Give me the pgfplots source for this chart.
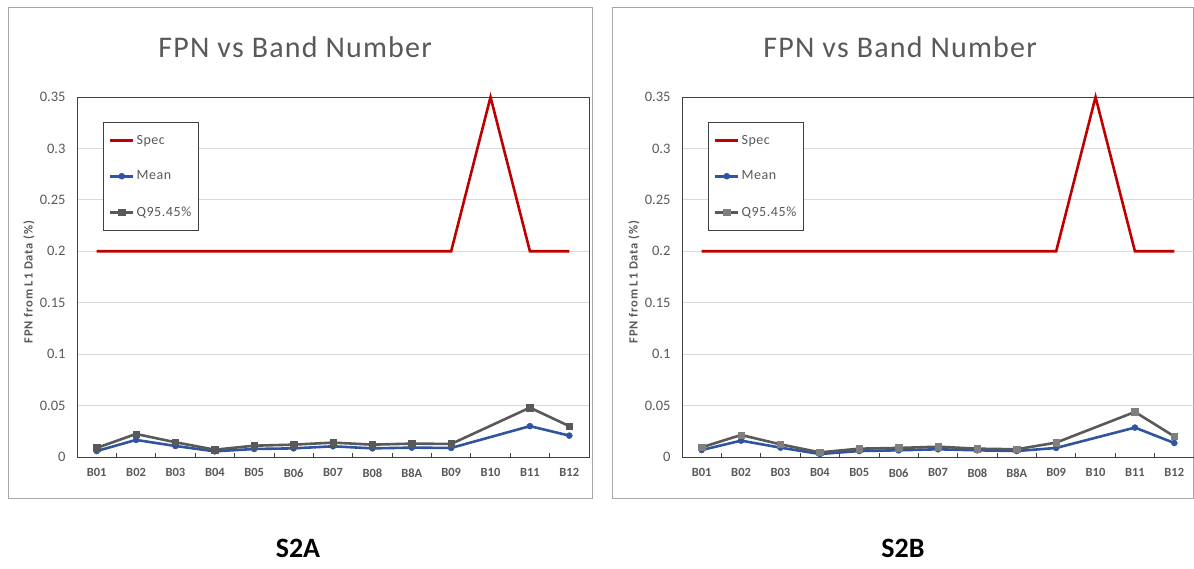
\documentclass[border=0pt]{standalone}
\usepackage{pgfplots}
\pgfplotsset{compat=1.18}
\usepackage{fontspec}
\setmainfont{Carlito}
\newfontfamily\ttlfont[LetterSpace=4]{Carlito}
\newfontfamily\ylfont[LetterSpace=7]{Carlito}
\newfontfamily\lgfont[LetterSpace=4]{Carlito}
\definecolor{specc}{HTML}{C00000}
\definecolor{meanc}{HTML}{2F55A0}
\definecolor{qc}{HTML}{595959}
\definecolor{qcm}{HTML}{7F7F7F}
\definecolor{txt}{HTML}{595959}
\definecolor{gridc}{HTML}{D9D9D9}
\definecolor{axc}{HTML}{404040}
\definecolor{panel}{HTML}{A6A6A6}

\pgfplotsset{fpn/.style={
  scale only axis, width=512bp, height=360bp,
  xmin=-0.5, xmax=12.5, ymin=0, ymax=0.35,
  xtick={0,1,2,3,4,5,6,7,8,9,10,11,12},
  xticklabels={B01,B02,B03,B04,B05,B06,B07,B08,B8A,B09,B10,B11,B12},
  minor xtick={0.5,1.5,2.5,3.5,4.5,5.5,6.5,7.5,8.5,9.5,10.5,11.5},
  major tick length=0pt, minor tick length=4bp,
  tick align=inside, xtick pos=bottom, ytick pos=left,
  minor tick style={draw=axc, line width=0.8bp},
  ytick={0,0.05,0.1,0.15,0.2,0.25,0.3,0.35},
  yticklabels={0,0.05,0.1,0.15,0.2,0.25,0.3,0.35},
  ymajorgrids, grid style={draw=gridc, line width=0.8bp},
  axis line style={draw=axc, line width=0.9bp},
  /pgf/number format/assume math mode=true,
  yticklabel style={font=\fontsize{14.5bp}{16bp}\selectfont, text=txt, xshift=-8bp},
  xticklabel style={font=\fontsize{12.5bp}{14bp}\selectfont\bfseries, text=txt, yshift=-8bp},
  ylabel={FPN from L1 Data (\%)},
  ylabel style={at={(axis description cs:-0.094,0.486)}, anchor=center,
    font=\ylfont\fontsize{12.5bp}{14bp}\selectfont\bfseries, text=txt},
  title={FPN vs Band Number},
  title style={at={(axis description cs:0.426,1)}, anchor=base, yshift=34bp,
    font=\ttlfont\fontsize{30bp}{34bp}\selectfont, text=txt},
  legend cell align=left,
  legend style={at={(axis description cs:0.0508,0.9306)}, anchor=north west,
    draw=axc, line width=0.9bp, inner xsep=5.5bp, inner ysep=10.5bp, row sep=21.5bp,
    font=\lgfont\fontsize{14bp}{16bp}\selectfont, text=txt},
  legend image code/.code={\draw[mark repeat=2,mark phase=2,##1] plot coordinates {(0bp,0bp) (11.5bp,0bp) (23bp,0bp)};},
  clip=false,
}}

\begin{document}
\begin{tikzpicture}
\path[use as bounding box] (0,0) rectangle (1194bp,569bp);
\draw[panel, line width=1bp] (8bp,70bp) rectangle (592bp,561bp);
\draw[panel, line width=1bp] (612bp,70bp) rectangle (1193bp,561bp);

\begin{axis}[fpn, at={(77bp,112bp)}, anchor=south west]
\addplot[specc, line width=2.6bp] coordinates {(0,0.2)(1,0.2)(2,0.2)(3,0.2)(4,0.2)(5,0.2)(6,0.2)(7,0.2)(8,0.2)(9,0.2)(10,0.35)(11,0.2)(12,0.2)};
\addlegendentry{Spec}
\addplot[meanc, line width=2.6bp, mark=*, mark size=3bp, mark options={fill=meanc, draw=meanc, line width=0.5bp}] coordinates {(0,0.0058)(1,0.0166)(2,0.0107)(3,0.0055)(4,0.0078)(5,0.0084)(6,0.0104)(7,0.0084)(8,0.0091)(9,0.0088)(11,0.0300)(12,0.0208)};
\addlegendentry{Mean}
\addplot[qc, line width=2.6bp, mark=square*, mark size=3.2bp, mark options={fill=qc, draw=qc, line width=0.5bp}] coordinates {(0,0.0088)(1,0.0224)(2,0.0143)(3,0.0071)(4,0.0110)(5,0.0120)(6,0.0140)(7,0.0120)(8,0.0130)(9,0.0127)(11,0.0480)(12,0.0300)};
\addlegendentry{Q95.45\%}
\end{axis}

\begin{axis}[fpn, at={(682bp,112bp)}, anchor=south west]
\addplot[specc, line width=2.6bp] coordinates {(0,0.2)(1,0.2)(2,0.2)(3,0.2)(4,0.2)(5,0.2)(6,0.2)(7,0.2)(8,0.2)(9,0.2)(10,0.35)(11,0.2)(12,0.2)};
\addlegendentry{Spec}
\addplot[meanc, line width=2.6bp, mark=*, mark size=3bp, mark options={fill=meanc, draw=meanc, line width=0.5bp}] coordinates {(0,0.0068)(1,0.0159)(2,0.0091)(3,0.0029)(4,0.0058)(5,0.0065)(6,0.0075)(7,0.0065)(8,0.0058)(9,0.0088)(11,0.0286)(12,0.0136)};
\addlegendentry{Mean}
\addplot[qc, line width=2.6bp, mark=square*, mark size=3.2bp, mark options={fill=qcm, draw=qcm, line width=0.5bp}] coordinates {(0,0.0094)(1,0.0214)(2,0.0123)(3,0.0045)(4,0.0081)(5,0.0088)(6,0.0100)(7,0.0081)(8,0.0075)(9,0.0140)(11,0.0438)(12,0.0200)};
\addlegendentry{Q95.45\%}
\end{axis}

\node[font=\fontsize{28bp}{32bp}\selectfont\bfseries] at (298bp,21bp) {S2A};
\node[font=\fontsize{28bp}{32bp}\selectfont\bfseries] at (903bp,21bp) {S2B};
\end{tikzpicture}
\end{document}
